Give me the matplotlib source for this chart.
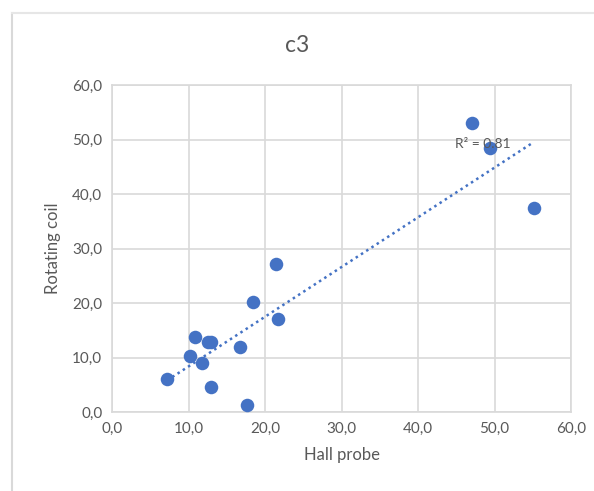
import numpy as np
import matplotlib
matplotlib.use("Agg")
import matplotlib.pyplot as plt
from matplotlib.lines import Line2D

# Hall probe vs rotating coil measurements
hall_probe = [47.1, 49.4, 55.1, 21.4, 18.4, 21.7, 10.8, 12.6, 13.0, 16.7, 10.2, 11.8, 7.2, 13.0, 17.7]
rotating_coil = [53.1, 48.5, 37.4, 27.2, 20.2, 17.0, 13.7, 12.9, 12.9, 12.0, 10.2, 8.9, 6.1, 4.5, 1.3]
r_squared_label = "R² = 0.81"
ticks = [0, 10, 20, 30, 40, 50, 60]

plt.rcParams['font.family'] = ['Lato', 'DejaVu Sans']

W, H = 594, 491
fig = plt.figure(figsize=(W / 100, H / 100), dpi=100)

# plot area in pixel coordinates
left, right, top, bottom = 112, 571, 85, 412
ax = fig.add_axes([left / W, 1 - bottom / H, (right - left) / W, (bottom - top) / H])

blue = "#4472C4"
grid = "#D9D9D9"
text_col = "#595959"

ax.set_xlim(0, 60)
ax.set_ylim(0, 60)
ax.set_xticks(ticks)
ax.set_yticks(ticks)
ax.set_xticklabels([f"{t:.1f}".replace(".", ",") for t in ticks])
ax.set_yticklabels([f"{t:.1f}".replace(".", ",") for t in ticks])
ax.grid(True, color=grid, linewidth=1.2)
ax.set_axisbelow(True)
for s in ax.spines.values():
    s.set_color(grid)
    s.set_linewidth(1.2)
ax.tick_params(length=0, labelsize=11, colors=text_col, pad=7)

ax.scatter(hall_probe, rotating_coil, s=95, color=blue, zorder=3, linewidths=0)

# linear trendline across the data range
x = np.array(hall_probe)
y = np.array(rotating_coil)
slope, intercept = np.polyfit(x, y, 1)
xs = np.array([x.min(), x.max()])
ax.plot(xs, slope * xs + intercept, linestyle=(0, (1, 1.5)), color=blue, linewidth=1.8, zorder=2)

ax.text(44.8, 48.4, r_squared_label, fontsize=10, color=text_col, zorder=4)

ax.set_xlabel("Hall probe", fontsize=12, color=text_col, labelpad=8)
ax.set_ylabel("Rotating coil", fontsize=12, color=text_col, labelpad=8)

fig.text(297 / W, 1 - 45 / H, "c3", fontsize=16.5, color=text_col, ha="center", va="center")

# chart frame (left and top edges)
fig.add_artist(Line2D([12 / W, 12 / W], [0, 1 - 13 / H], transform=fig.transFigure, color="#D9D9D9", linewidth=1.5))
fig.add_artist(Line2D([12 / W, 1], [1 - 13 / H, 1 - 13 / H], transform=fig.transFigure, color="#E6E6E6", linewidth=1.5))

fig.savefig("out.png", dpi=100)
